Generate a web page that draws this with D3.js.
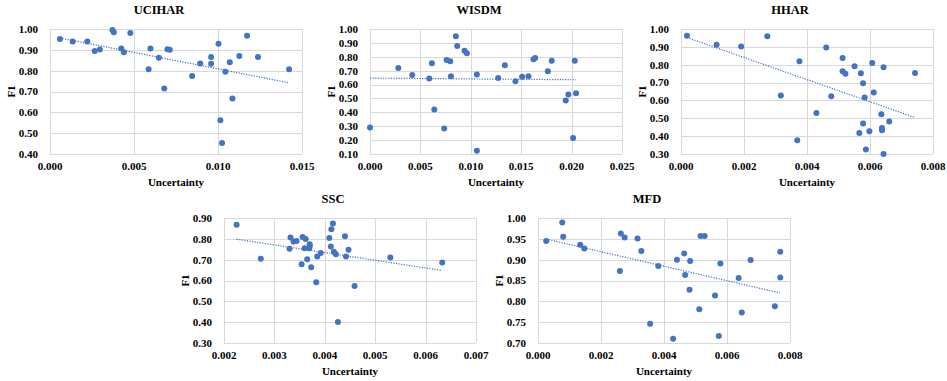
<!DOCTYPE html>
<html>
<head>
<meta charset="utf-8">
<script src="https://cdn.jsdelivr.net/npm/d3@7"></script>
<style>
  body { margin: 0; background: #fff; }
  svg { font-family: "Liberation Serif", "Times New Roman", serif; font-weight: bold; }
</style>
</head>
<body>
<div id="chart"></div>
<script>
// UCIHAR
const ucihar_unc = [0.00059, 0.00135, 0.00222, 0.00266, 0.00297, 0.00372, 0.00380, 0.00424, 0.00440, 0.00478,
  0.00587, 0.00598, 0.00648, 0.00680, 0.00699, 0.00713, 0.00846, 0.00894, 0.00959, 0.00959,
  0.01003, 0.01014, 0.01024, 0.01044, 0.01070, 0.01086, 0.01127, 0.01173, 0.01238, 0.01423];
const ucihar_f1 = [0.952, 0.940, 0.940, 0.895, 0.902, 0.995, 0.984, 0.907, 0.889, 0.981,
  0.807, 0.907, 0.862, 0.715, 0.903, 0.900, 0.775, 0.834, 0.866, 0.833,
  0.929, 0.562, 0.453, 0.795, 0.840, 0.666, 0.870, 0.968, 0.866, 0.807];

// WISDM
const wisdm_unc = [0.0000, 0.00281, 0.00419, 0.00588, 0.00614, 0.00638, 0.00736, 0.00760, 0.00796, 0.00803,
  0.00852, 0.00865, 0.00938, 0.00961, 0.01060, 0.01060, 0.01271, 0.01338, 0.01443, 0.01509,
  0.01572, 0.01622, 0.01638, 0.01764, 0.01803, 0.01942, 0.01968, 0.02015, 0.02031, 0.02044];
const wisdm_f1 = [0.291, 0.720, 0.669, 0.643, 0.754, 0.421, 0.283, 0.776, 0.768, 0.660,
  0.947, 0.877, 0.843, 0.826, 0.672, 0.124, 0.648, 0.739, 0.624, 0.657,
  0.660, 0.783, 0.792, 0.696, 0.771, 0.486, 0.529, 0.216, 0.771, 0.537];

// HHAR
const hhar_unc = [0.00019, 0.00113, 0.00191, 0.00274, 0.00317, 0.00369, 0.00376, 0.00430, 0.00461, 0.00477,
  0.00513, 0.00513, 0.00522, 0.00551, 0.00566, 0.00571, 0.00578, 0.00578, 0.00583, 0.00587,
  0.00598, 0.00607, 0.00612, 0.00636, 0.00638, 0.00638, 0.00643, 0.00643, 0.00661, 0.00743];
const hhar_f1 = [0.962, 0.912, 0.902, 0.959, 0.627, 0.377, 0.820, 0.529, 0.897, 0.623,
  0.838, 0.763, 0.750, 0.792, 0.418, 0.752, 0.696, 0.471, 0.617, 0.325,
  0.428, 0.809, 0.645, 0.523, 0.446, 0.433, 0.786, 0.300, 0.482, 0.754];

// SSC
const ssc_unc = [0.00225, 0.00273, 0.00330, 0.00332, 0.00338, 0.00344, 0.00354, 0.00356, 0.00360, 0.00362,
  0.00365, 0.00369, 0.00370, 0.00370, 0.00373, 0.00383, 0.00385, 0.00392, 0.00409, 0.00412,
  0.00413, 0.00416, 0.00418, 0.00422, 0.00426, 0.00440, 0.00442, 0.00447, 0.00459, 0.00530, 0.00633];
const ssc_f1 = [0.868, 0.704, 0.753, 0.807, 0.787, 0.790, 0.678, 0.809, 0.755, 0.799,
  0.702, 0.755, 0.774, 0.764, 0.664, 0.592, 0.715, 0.732, 0.804, 0.763,
  0.846, 0.874, 0.738, 0.726, 0.401, 0.812, 0.715, 0.748, 0.574, 0.710, 0.686];

// MFD
const mfd_unc = [0.00026, 0.00077, 0.00080, 0.00134, 0.00147, 0.00260, 0.00263, 0.00275, 0.00316, 0.00328,
  0.00356, 0.00382, 0.00429, 0.00441, 0.00464, 0.00467, 0.00481, 0.00483, 0.00512, 0.00516,
  0.00529, 0.00562, 0.00574, 0.00579, 0.00637, 0.00647, 0.00675, 0.00752, 0.00769, 0.00769];
const mfd_f1 = [0.945, 0.989, 0.955, 0.936, 0.927, 0.873, 0.963, 0.953, 0.951, 0.921,
  0.746, 0.885, 0.710, 0.900, 0.915, 0.863, 0.828, 0.897, 0.781, 0.957,
  0.957, 0.814, 0.717, 0.891, 0.856, 0.773, 0.899, 0.788, 0.919, 0.857];

// tick values
const ucihar_xticks = [0, 0.005, 0.010, 0.015];
const wisdm_xticks = [0, 0.005, 0.010, 0.015, 0.020, 0.025];
const hhar_xticks = [0, 0.002, 0.004, 0.006, 0.008];
const ssc_xticks = [0.002, 0.003, 0.004, 0.005, 0.006, 0.007];
const mfd_xticks = [0, 0.002, 0.004, 0.006, 0.008];
const ucihar_yticks = [0.4, 0.5, 0.6, 0.7, 0.8, 0.9, 1.0];
const wisdm_yticks = [0.1, 0.2, 0.3, 0.4, 0.5, 0.6, 0.7, 0.8, 0.9, 1.0];
const hhar_yticks = [0.3, 0.4, 0.5, 0.6, 0.7, 0.8, 0.9, 1.0];
const ssc_yticks = [0.3, 0.4, 0.5, 0.6, 0.7, 0.8, 0.9];
const mfd_yticks = [0.70, 0.75, 0.80, 0.85, 0.90, 0.95, 1.00];

const panels = [
  { title: "UCIHAR", x: ucihar_unc, y: ucihar_f1, xt: ucihar_xticks, yt: ucihar_yticks, left: 50, top: 29 },
  { title: "WISDM", x: wisdm_unc, y: wisdm_f1, xt: wisdm_xticks, yt: wisdm_yticks, left: 370, top: 29 },
  { title: "HHAR", x: hhar_unc, y: hhar_f1, xt: hhar_xticks, yt: hhar_yticks, left: 681, top: 29 },
  { title: "SSC", x: ssc_unc, y: ssc_f1, xt: ssc_xticks, yt: ssc_yticks, left: 224, top: 218 },
  { title: "MFD", x: mfd_unc, y: mfd_f1, xt: mfd_xticks, yt: mfd_yticks, left: 538, top: 218 },
];

const W = 947, H = 381;
const pw = 252, ph = 125;
const blue = "#4472C4", grid = "#d9d9d9";

const svg = d3.select("#chart").append("svg")
  .attr("width", W)
  .attr("height", H);

panels.forEach(function (p) {
  const g = svg.append("g").attr("transform", "translate(" + p.left + "," + p.top + ")");

  const x = d3.scaleLinear().domain(d3.extent(p.xt)).range([0, pw]);
  const y = d3.scaleLinear().domain(d3.extent(p.yt)).range([ph, 0]);

  // gridlines
  g.append("g").selectAll("line.v")
    .data(p.xt).join("line")
    .attr("x1", d => Math.round(x(d)) + 0.5).attr("x2", d => Math.round(x(d)) + 0.5)
    .attr("y1", 0).attr("y2", ph)
    .attr("stroke", grid).attr("stroke-width", 1);
  g.append("g").selectAll("line.h")
    .data(p.yt).join("line")
    .attr("y1", d => Math.round(y(d)) + 0.5).attr("y2", d => Math.round(y(d)) + 0.5)
    .attr("x1", 0).attr("x2", pw)
    .attr("stroke", grid).attr("stroke-width", 1);

  // tick labels
  const yfmt = d3.format(".2f");
  g.append("g").selectAll("text")
    .data(p.yt).join("text")
    .attr("x", -12).attr("y", d => y(d))
    .attr("dy", "0.35em")
    .attr("text-anchor", "end")
    .attr("font-size", 11)
    .text(d => yfmt(d));
  const xfmt = d3.format(".3f");
  g.append("g").selectAll("text")
    .data(p.xt).join("text")
    .attr("x", d => x(d)).attr("y", ph + 16)
    .attr("text-anchor", "middle")
    .attr("font-size", 11)
    .text(d => xfmt(d));

  // titles
  g.append("text")
    .attr("x", pw / 2 - 17).attr("y", -15)
    .attr("text-anchor", "middle")
    .attr("font-size", 12.5)
    .text(p.title);
  g.append("text")
    .attr("x", pw / 2).attr("y", ph + 32)
    .attr("text-anchor", "middle")
    .attr("font-size", 11)
    .text("Uncertainty");
  g.append("text")
    .attr("transform", "translate(-35," + (ph / 2) + ") rotate(-90)")
    .attr("text-anchor", "middle")
    .attr("font-size", 11)
    .text("F1");

  // linear trendline (least squares)
  const pts = p.x.map((v, i) => [v, p.y[i]]);
  const mx = d3.mean(p.x), my = d3.mean(p.y);
  const slope = d3.sum(pts, d => (d[0] - mx) * (d[1] - my)) / d3.sum(pts, d => (d[0] - mx) * (d[0] - mx));
  const icpt = my - slope * mx;
  const [x0, x1] = d3.extent(p.x);
  g.append("line")
    .attr("x1", x(x0)).attr("y1", y(icpt + slope * x0))
    .attr("x2", x(x1)).attr("y2", y(icpt + slope * x1))
    .attr("stroke", blue)
    .attr("stroke-width", 1.2)
    .attr("stroke-dasharray", "1.2,1.4");

  // points
  g.append("g").selectAll("circle")
    .data(pts).join("circle")
    .attr("cx", d => x(d[0]))
    .attr("cy", d => y(d[1]))
    .attr("r", 3)
    .attr("fill", blue);
});
</script>
</body>
</html>
